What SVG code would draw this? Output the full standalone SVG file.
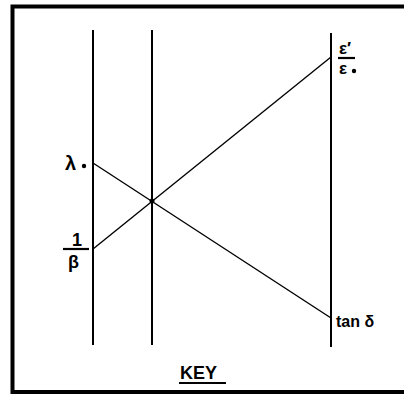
<svg xmlns="http://www.w3.org/2000/svg" width="406" height="397" viewBox="0 0 406 397">
<style>
.ax{stroke:#000;stroke-width:2;fill:none}
.ln{stroke:#000;stroke-width:1.4;fill:none}
.t{font-family:"Liberation Sans",Arial,sans-serif;font-weight:bold;fill:#000}
</style>
<rect width="406" height="397" fill="#fff"/>
<g id="frame">
<path d="M404,6.5 H12.5 V392 H404" fill="none" stroke="#000" stroke-width="4"/>
</g>
<g id="axes">
<line id="axis-left" class="ax" x1="93" y1="30" x2="93" y2="345"/>
<line id="axis-mid" class="ax" x1="152" y1="30" x2="152" y2="345" stroke-width="1.5"/>
<line id="axis-right" class="ax" x1="331" y1="33" x2="331" y2="347"/>
</g>
<g id="connectors">
<line class="ln" x1="93" y1="163" x2="331" y2="318"/>
<line class="ln" x1="93" y1="249" x2="331" y2="57"/>
<circle cx="152" cy="201" r="2.5" fill="#000"/>
</g>
<g id="label-lambda">
<text class="t" x="65" y="170" font-size="20">λ</text>
<circle cx="84" cy="166" r="2.2" fill="#000"/>
</g>
<g id="label-beta">
<text class="t" x="72" y="246" font-size="18">1</text>
<line x1="63" y1="249" x2="89" y2="249" stroke="#000" stroke-width="2.2"/>
<text class="t" x="68" y="268" font-size="18">β</text>
</g>
<g id="label-eps">
<text class="t" x="339" y="54" font-size="17">ε′</text>
<line x1="338" y1="58" x2="355" y2="58" stroke="#000" stroke-width="2.2"/>
<text class="t" x="339" y="74" font-size="17">ε</text>
<circle cx="354" cy="71" r="2.2" fill="#000"/>
</g>
<g id="label-tan">
<text class="t" x="336" y="327" font-size="16">tan δ</text>
</g>
<g id="label-key">
<text class="t" x="180" y="379" font-size="18">KEY</text>
<line x1="179" y1="383" x2="226" y2="383" stroke="#000" stroke-width="2.2"/>
</g>
</svg>
